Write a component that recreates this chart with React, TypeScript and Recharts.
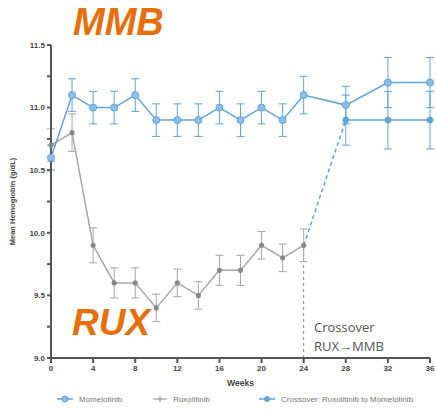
import {
  ComposedChart,
  Line,
  XAxis,
  YAxis,
  ErrorBar,
  ReferenceLine,
} from "recharts";

// weeks on study
const weeks = [0, 2, 4, 6, 8, 10, 12, 14, 16, 18, 20, 22, 24, 28, 32, 36];

// mean hemoglobin (g/dL)
const momelotinib = [10.6, 11.1, 11.0, 11.0, 11.1, 10.9, 10.9, 10.9, 11.0, 10.9, 11.0, 10.9, 11.1, 11.02, 11.2, 11.2];
const momelotinibErr = [0.1, 0.13, 0.13, 0.13, 0.13, 0.13, 0.13, 0.13, 0.13, 0.13, 0.13, 0.13, 0.15, 0.15, 0.2, 0.2];

const ruxolitinib = [10.7, 10.8, 9.9, 9.6, 9.6, 9.4, 9.6, 9.5, 9.7, 9.7, 9.9, 9.8, 9.9];
const ruxolitinibErr = [0.13, 0.15, 0.14, 0.12, 0.12, 0.11, 0.11, 0.11, 0.12, 0.12, 0.11, 0.11, 0.13];

// crossover arm starts at week 24
const crossoverWeeks = [24, 28, 32, 36];
const crossover = [9.9, 10.9, 10.9, 10.9];
const crossoverErr = [0, 0.2, 0.23, 0.23];

const yTicks = [9.0, 9.25, 9.5, 9.75, 10.0, 10.25, 10.5, 10.75, 11.0, 11.25, 11.5];
const xTicks = [0, 4, 8, 12, 16, 20, 24, 28, 32, 36];

const BLUE = "#5fa3dc";
const GREY = "#a6a6a6";
const ORANGE = "#e66f0c";

const data = weeks.map((w, i) => {
  const ci = crossoverWeeks.indexOf(w);
  return {
    week: w,
    mmb: momelotinib[i],
    mmbErr: momelotinibErr[i],
    rux: i < ruxolitinib.length ? ruxolitinib[i] : null,
    ruxErr: i < ruxolitinib.length ? ruxolitinibErr[i] : null,
    cross: ci > 0 ? crossover[ci] : null,
    crossErr: ci > 0 ? crossoverErr[ci] : null,
    crossDash: ci === 0 || ci === 1 ? crossover[ci] : null,
  };
});

const tickStyle = { fill: "#444", fontSize: 8, fontWeight: 700, fontFamily: "Liberation Sans, Arial, sans-serif" };

export default function App() {
  return (
    <div
      style={{
        position: "absolute",
        left: 0,
        top: 0,
        width: 436,
        height: 411,
        overflow: "hidden",
        background: "#fff",
        fontFamily: "Liberation Sans, Arial, sans-serif",
      }}
    >
      <ComposedChart
        width={436}
        height={411}
        data={data}
        margin={{ top: 45, right: 6, left: 0, bottom: 0 }}
      >
        <XAxis
          dataKey="week"
          type="number"
          domain={[0, 36]}
          ticks={xTicks}
          height={53}
          stroke="#555"
          strokeWidth={2}
          tickSize={5}
          tick={tickStyle}
          label={{ value: "Weeks", position: "insideTop", offset: 22, style: { ...tickStyle, fontSize: 8.5 } }}
        />
        <YAxis
          type="number"
          domain={[9.0, 11.5]}
          ticks={yTicks}
          interval={0}
          width={51}
          stroke="#555"
          strokeWidth={2}
          tickSize={4}
          tick={tickStyle}
          tickFormatter={(v: number) => (Math.round(v * 100) % 50 === 0 ? v.toFixed(1) : "")}
          label={{
            value: "Mean Hemoglobin (g/dL)",
            angle: -90,
            position: "insideLeft",
            offset: 12,
            style: { ...tickStyle, fontSize: 7.5, textAnchor: "middle" },
          }}
        />
        <ReferenceLine
          segment={[
            { x: crossoverWeeks[0], y: 9.0 },
            { x: crossoverWeeks[0], y: crossover[0] },
          ]}
          stroke="#888"
          strokeDasharray="3 3"
        />
        <Line
          dataKey="rux"
          stroke={GREY}
          strokeWidth={1.5}
          dot={{ r: 1.8, fill: "#888", stroke: "#888" }}
          connectNulls={false}
          isAnimationActive={false}
        >
          <ErrorBar dataKey="ruxErr" width={4} stroke={GREY} strokeWidth={1} direction="y" />
        </Line>
        <Line
          dataKey="crossDash"
          stroke={BLUE}
          strokeWidth={1.5}
          strokeDasharray="4 3"
          dot={false}
          connectNulls
          isAnimationActive={false}
        />
        <Line
          dataKey="cross"
          stroke={BLUE}
          strokeWidth={1.5}
          dot={{ r: 2.5, fill: BLUE, stroke: BLUE }}
          isAnimationActive={false}
        >
          <ErrorBar dataKey="crossErr" width={4} stroke={BLUE} strokeWidth={1} direction="y" />
        </Line>
        <Line
          dataKey="mmb"
          stroke={BLUE}
          strokeWidth={1.5}
          dot={{ r: 3.5, fill: "#8cc0ea", stroke: BLUE, strokeWidth: 1 }}
          isAnimationActive={false}
        >
          <ErrorBar dataKey="mmbErr" width={4} stroke={BLUE} strokeWidth={1} direction="y" />
        </Line>
      </ComposedChart>

      {/* annotations */}
      <div
        style={{
          position: "absolute",
          left: 73,
          top: 0,
          fontSize: 38,
          fontWeight: 700,
          fontStyle: "italic",
          color: ORANGE,
          lineHeight: "44px",
        }}
      >
        MMB
      </div>
      <div
        style={{
          position: "absolute",
          left: 72,
          top: 302,
          fontSize: 37,
          fontWeight: 700,
          fontStyle: "italic",
          color: ORANGE,
          lineHeight: "42px",
        }}
      >
        RUX
      </div>
      <div
        style={{
          position: "absolute",
          left: 314,
          top: 318,
          fontSize: 13,
          color: "#555",
          lineHeight: "19px",
          fontFamily: "Open Sans, sans-serif",
        }}
      >
        Crossover
        <br />
        RUX→MMB
      </div>

      {/* legend */}
      <div
        style={{
          position: "absolute",
          left: 56,
          top: 394,
          display: "flex",
          alignItems: "center",
          fontSize: 8,
          color: "#777",
          whiteSpace: "nowrap",
        }}
      >
        <svg width={18} height={10}>
          <line x1={1} y1={5} x2={17} y2={5} stroke={BLUE} strokeWidth={1.5} />
          <circle cx={9} cy={5} r={3} fill="#8cc0ea" stroke={BLUE} />
        </svg>
        <span style={{ marginLeft: 5, marginRight: 30 }}>Momelotinib</span>
        <svg width={16} height={10}>
          <line x1={1} y1={5} x2={15} y2={5} stroke="#888" strokeWidth={1} />
          <line x1={8} y1={2} x2={8} y2={8} stroke="#888" strokeWidth={1} />
        </svg>
        <span style={{ marginLeft: 5, marginRight: 48 }}>Ruxolitinib</span>
        <svg width={18} height={10}>
          <line x1={1} y1={5} x2={17} y2={5} stroke={BLUE} strokeWidth={1.5} />
          <circle cx={9} cy={5} r={2.5} fill={BLUE} stroke={BLUE} />
        </svg>
        <span style={{ marginLeft: 5 }}>Crossover: Ruxolitinib to Momelotinib</span>
      </div>
    </div>
  );
}
